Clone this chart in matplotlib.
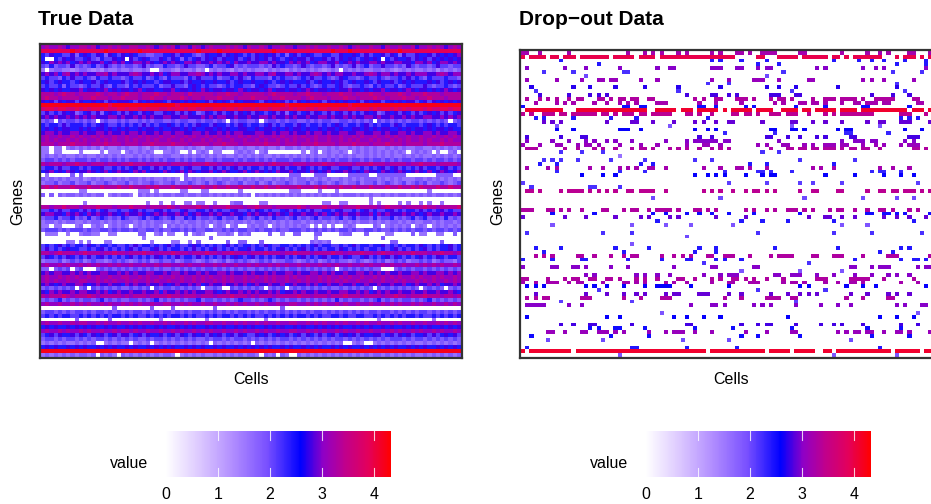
import numpy as np
import matplotlib
matplotlib.use("Agg")
import matplotlib.pyplot as plt
from matplotlib.cm import ScalarMappable
from matplotlib.colors import LinearSegmentedColormap, Normalize

plt.rcParams['font.family'] = ['Liberation Sans', 'DejaVu Sans']

W, H = 931, 504
n_genes, n_cells = 80, 100
# what each hex digit in true_rows stands for
digit_values = [0, 0.4, 0.7, 1.0, 1.2, 1.4, 1.6, 1.85, 2.1, 2.4, 2.8, 3.05, 3.3, 3.6, 3.9, 4.2]
value_max = 4.32
legend_ticks = [0, 1, 2, 3, 4]

# true data, one hex digit per cell
true_rows = [
"bcbbcbabbc cbcabbcbcb bccbbcbabc bcabbacbab cbbbcbcbac bbcbabbcbb abbcbcbbcb bcbabcbbcb bacbbcbbca bbcbcbabcb",
"eeeeeeefee eeeeefeeee eeefeeeeee eeeeeeefee eefeeeeeee eeeeefeeee eeeeeeeeef eeefeeeeee eeeeefeeee eeeeeeeeee",
"98a9988a79 a98a97a98a 9a98877889 9a8a99878a 99a8a9a989 8a9a9a8979 a89a988998 8a99a98a89 9a8a97a88a 99a8a9a9ab",
"90098a9a88 9a87988a9a 0a89a988a9 8a97989a8a 9a8a99a89a 8a9a8a989a 9aa8a99a8a 8a9a989a9a 9098a99a8a 9a8a9a9a9a",
"a9babab9ab abaab9abab 9abbaba9ab aba9bbabaa babab9baab aabbabaa9b abab9abbaa b9ababaabb abaabbaa9b bab9abbaba",
"8797887a78 78978a8787 8878a78779 8878a88778 97889a7878 88787a8988 78a878878a 7878a78978 8a88787a87 8878a88788",
"6067766567 7656576676 6766760067 7657667560 6767657676 7665767657 6767676567 6076767667 7676567676 6767576767",
"abab9bcaba baabbcabaa abcbaabab9 abbaabbcba babaabbaba abbabcaabb abaabcbaba bbaabaabcb abbabaabab bbaabcbabb",
"8988798a88 9879889887 8988978987 9888798a88 8978898a87 9888798988 7898a88987 8a98878988 9878898a89 8798889887",
"9a89a9989a 99a89a999a 89a9a9989a a99a8a99a9 9a99a89a99 a99a989a9a 999a89a99a 9a89a99a98 a99a89a9a9 99a9a89a9a",
"8988979887 8988a87988 7989888978 8a8879a989 8878989988 79a9887898 8a89878988 9a87889879 8988978988 8a87889878",
"a9a9a99aab 9aa9ab9a9a a9ab9aa99a ab9aa9a9ba 9aa9aa9ba9 aa9ab9aa9a a9aba9aa9a 9aabaa9a9a ab9aa9aba9 aa9a9aba9a",
"cccbcdccbc cccdcbccbc dccbcccdcc bcccbdcccc cbccdccbcc cccbcdcccc bccdcccbcc cdccbcccdc cbcccdcbcc cdcccbcccc",
"cdccbccccb ccdcccbccd cccbccdccb cccdcbccbc ccdcccbccc dcccbccdcc ccbcdcccbc ccdccbcccd ccbcccdccb ccdcccbccc",
"a9a8a9aa8a 99a9a8a9aa a98a9a9aa9 8aa9a9a99a 8a9a98a9aa a98a9a9a89 8a9a99a8a9 a9a99a8a9a a89a9a9aa8 9a8a9a9a9a",
"ffffffffff ffffffefff ffffffffff ffefffffff ffffffffff ffffffffef ffffffffff fffeffffff ffffffffff ffffffffff",
"deedeedded edeededdee deededeedd edeedeeded deedeededd edeedeedde deededeede eddeedeede deedededee ededdeedee",
"8a898a9a78 9a8a79a98a 8a98a9a88a 9a8a8a978a 98a89a8a9a 8a989a8a79 a89a8a98a8 9a8a898a9a 78a9a8a98a 89a9a8a89a",
"ababaababa babaaabbab aabababaab baabbaaaba babbaabaab aabbabaaba baabaabbab aababaabba baabaababa abbaababab",
"7870878878 7870787787 8778787887 7878877878 8787087887 7807887878 8778787887 7887878780 8787878788 7878787078",
"98998a8999 8989a98898 9898a89899 a989898a99 8a99898a98 9989a89899 8a98998989 a989989a89 8998a98999 89a9898998",
"9a9a9aa99a 9a9aa9a9a9 a99a9aa9a9 9aa9a9a99a a9a9a99aa9 9a9aa9a9a9 aa9a99a9aa 9a99aa9a9a 9aa99a9a9a a9a9aa9a99",
"abbabaabba baabbabaab abbabaabab babbaabbab aabababbaa abbaababba baababbaba abbaabbaab babaabbaba abbabaabba",
"bcbbcbbcbc bbcbcbbcbb cbbcbcbbcb bcbbcbcbbc bcbbcbbcbc bbcbbcbcbb cbcbbcbbcb bcbbcbcbbc bbcbcbbcbb cbbcbbcbcb",
"bcbcbbcbcb cbbcbcbcbb cbcbbcbcbb cbbcbcbbcb cbcbbcbbcb bcbcbbcbcb cbbcbcbbcb bcbcbcbbcb cbbcbcbcbb cbcbbcbcbb",
"cccbcccdcc cbcccdcccb cccbccdccc cdcccbcccc bccdcccbcc cccdcccbcc cbcccdcccc bcccdcccbc ccdcccbccc cbcccdcccc",
"6606606767 6767576676 7667657677 6766767657 7667667676 6767667577 6767676676 7667676767 6676767667 7667676767",
"6606600006 0000606660 6767676006 6760060676 0660006767 6067000000 0060670676 6760676767 6767676067 6760600670",
"6767676676 7667676767 6676767667 7667676767 6767667676 7676676767 6767676676 7676766767 6767667676 7667676767",
"7887878788 8787887878 7887878787 8878787887 7878887878 8787878887 8878787878 7887887878 8787878878 8787887878",
"cbcccbccdc cbcccbccbc cdcccbcccc bccccbcccd ccbcccbccc cccbcdcccb cccbcccdcc bcccbcccdc ccbccccbcc dcccbccccb",
"8998a88998 9899a88989 89a8998a89 89989a8899 8a8989a898 9989898a89 98a98989a8 899a889898 9a89a89898 a89989a898",
"9ab9a9ba9a aba9ab9aba a9bab9aa9b a9ab9ba9aa b9aba99ab9 aba9a9baab 9aa9ba9ab9 aaba9a9baa 9ba9aba9ab a9b9aba9ab",
"0600000707 0000000000 0000000000 0000700000 0000000000 0000000007 7700077700 0007777700 7777777000 0000777700",
"7676767667 5676766767 6776767667 6760767676 6767767676 7676676767 6776767676 6767676777 6767676667 7676767676",
"6778677867 7867787677 8676778767 7867787678 6787677867 7867867787 6778678767 8767786778 6787678678 7867787678",
"cdcdcccdcc cdccdcccdc cdcccdcdcc cdcccdccdc cdccdccdcc dccdccdccc cdcccdcdcc cdccdcccdc ccdccdccdc dcccdccdcc",
"0000000006 6000000000 0006660600 0006600066 0000000600 0000000006 6600006000 6000000000 0000000000 0060000000",
"7070767767 6767706767 7607676767 7677677677 6767676767 0767676767 6767676767 7677767676 6767677676 7676776767",
"0000000000 0000000000 0000000000 0000000000 0000000000 0000000000 0000000000 0000000060 0000000000 0000000000",
"0000000000 6000000000 0000060060 0600660660 0600067700 0066000000 0000000660 0660000060 6000060600 6060060000",
"ccbccdcccb cccdcccbcc cdcccbcccc dcbccccdcc bcccdcccbc cdcccbcccc cdcbcccdcc cbcccdcccc bcdcccbccc cdccbccccd",
"8898a88998 a8989a8898 89a89889a8 9889a88998 a89889a889 8a989889a8 9898a88998 9a88989a89 889a898998 a8989a8988",
"abbaa9baba 9babaaba9a baaba9abab aabab9abaa babaabaa9b abaababa9b aabaabab9a babaabaab9 babaaababa 9abaabaaba",
"7889788978 7978987879 8778978987 8977989788 7897887987 8978798878 9787897887 8978978879 7889787897 8978879787",
"6776767766 7677676767 7767676776 6767677676 7676767767 6776767676 7767677676 7676767767 6767767676 6776767767",
"6606600067 0067606767 6067676760 7676767676 0676067006 7676067676 7676060606 0067600007 6067676706 7606767676",
"7888787888 7877887878 8787788787 7887878778 8778787887 7878878778 8878787878 7887877887 8778787878 8787887878",
"0666006006 7766006600 0007700670 6600706760 0066760767 0000700600 7700077000 0677000700 0066000070 6600660070",
"0000000000 0000000000 0000600000 0000000000 7000000000 0000000000 0000060000 0000000000 0700000000 0000000000",
"0000006606 0600066000 0000006000 0660060700 0000700770 0070000000 0000767670 0000000000 0007700000 0000070000",
"8989a89899 8a98998988 98a8998989 a89889a989 8989a89899 898a988998 98989a8998 8989a89989 9a89898998 a989899a89",
"8a8989a998 8989a89898 9a89889a89 899898a898 9a8989899a 8998989a89 89a8989899 8a98989899 8989a89898 9a89899a89",
"ccbcdcccbc dcccbccdcc bcccdccbcc cdcccbcccd ccbccdcccb cccdcccbcc dcccbccccd ccbcccdccb cdccbcccdc ccbccdccbc",
"8a9898a989 8a89a89898 9a89898a98 98a8998a89 898a89a989 a898989a89 89a8989a89 98a9889a89 89a8a98989 a898a98998",
"6777867878 6787767878 7678786787 7867887678 7678678787 6787867788 7678786787 8776787678 7867878677 8786787768",
"bcbbcbcbbc bcbcbbcbcb bcbbcbbcbc cbbcbcbbcb bcbcbbcbbc bcbbcbcbcb bcbcbbcbcb cbbcbbcbcb bcbcbbcbbc bcbcbcbbcb",
"7707878078 0007878787 8787878787 7878787878 8787878787 7878787878 8787878787 0787878787 7000787878 8787878787",
"ababbaabab abaabbaaba babaabbaab abbabaabab aabbabaaba baababaabb abaabbabab aabaabbaba babaabaabb abaabbabab",
"bcbbcbcbcb bcbcbbcbbc cbbcbcbbcb bcbcbbcbcb cbbcbcbbcb bcbcbcbbcb cbbcbbcbcb bcbcbbcbbc bcbcbcbbcb cbbcbcbbcb",
"bcbcbbcbbc cbbcbcbcbb cbcbbcbcbb cbbcbbcbcb bcbcbcbbcb cbbcbcbbcb bcbcbbcbcb cbcbbcbbcb bcbbcbcbbc bcbcbbcbcb",
"aba9abaabb a9abaabaa9 babaabaaba 9abaabab9a baabaabab9 abaabaab9a baabab9aba abaab9abaa baabaab9ab aabab9aaba",
"7878787807 8087878787 7878780878 8787878707 7870087878 7870787807 8787878787 7878787870 8787878787 0787870787",
"a9babaabab baabab9aba abaabaab9b aabababaab ba9abaabab abaabab9aa babaabaaba abbaabab9a babaabaaba abaabaaba9",
"cbcccdcbcc cdcbcccccb cbcccbcccc dccbcccbcc cbcccdcccb cbcccbcccc cdccbcccbc ccdcccbccc cbccdccbcc cdcccbccbc",
"7878978787 8878978787 7887878978 7878788978 8787878988 7878987878 8787878787 9787887878 9787878878 7897878787",
"bcbbcbbcbc bcbbcbcbbc bcbcbbcbbc cbbcbcbbcb bcbbcbcbcb bcbcbbcbbc cbbcbcbcbb cbcbbcbbcb bcbcbcbbcb cbbcbbcbcb",
"0000000000 0000000700 0000007000 0700000000 0700000000 0000000700 0000000000 0000000000 0000000000 0000000000",
"7887878788 7878878787 8788787878 8787878878 7878787887 8787887878 7878788787 8787878788 7887878787 8878787878",
"8989899889 8989898998 9898898989 8998989889 8989989898 9889898989 8998989889 9898899889 8989898998 9889898989",
"0000000070 0000007000 0000000060 0000000006 0000000000 0006000000 0000000000 0000000000 6000000000 0006000000",
"bcbbcbbcbc cbbcbcbbcb bcbcbbcbbc bcbbcbcbbc cbbcbbcbcb bcbcbbcbbc cbbcbcbcbb cbcbbcbcbb cbbcbcbbcb bcbbcbcbcb",
"9a9a99a9a9 a9a99a9a99 a9a9a99a9a 99a9a9a99a 9a9a99a9a9 a99a9a9a99 a9a99a9a9a 9a99a9a9a9 9a9a99a9a9 a9a99a9a9a",
"bcbbcbcbbc bcbbcbbcbc cbcbbcbbcb bcbcbbcbcb cbbcbbcbcb bcbcbbcbbc cbbcbcbcbb cbcbbcbbcb bcbcbcbbcb cbbcbcbbcb",
"89a8a99a8a 98a9a89a8a a89a8a99a8 9a8a98a9a8 a9a89a8a98 8a9a89a9a8 9a8a98a89a 89a9a8a99a a89a8a9a89 9a8a89a9a8",
"7887878878 7878878787 8787787887 8787878778 7887878878 7878787887 8787878787 8878787878 7878887878 8787878787",
"6767676676 7670067676 6067670676 7676767676 0767676767 0767676767 6767676767 6700676006 7676767676 6767676767",
"9a9a99a9a9 a99a9a9a99 a9a99a9a9a 9a99a9a9a9 9a9a99a9a9 a9a9a99a9a 99a9a9a99a 9a9a99a9a9 a9a9a99a9a 9a99a9a9a9",
"ffffffffff ffffffffff ffffffffff ffffffffff ffffffffff ffffffffff ffffffffff ffffffffff ffffffffff ffffffffff",
"6767676767 7670767607 6767676767 7606767676 6767676767 7607670760 0767676767 6767676767 7676767676 6767676767",
]

# drop-out data: gene row -> (value, columns that survived)
drop_rows = {
0: (3.2, "0-1 4 11 25 29 31 33 37 39 45 47 51-52 54 57-60 66-67 76 82 85 87 92-93 97"),
1: (3.95, "0 2-5 7-8 10-12 14-20 22-26 28-31 33-50 56-57 61-65 67-72 74-75 77 79-85 89 91-93 95 97"),
2: (2.4, "9 45 47 52 58 74 80 83 86 91 96"),
3: (2.4, "18 56 61 89 96"),
4: (3.0, "1 10 15 23 32 35-36 45-47 51-52 56 58-59 70 72 81 84 86 96"),
5: (2.2, "5 12 24-25 62 88 95"),
6: (2.0, "15 58"),
7: (3.1, "1 8 14 18-19 21-22 28 32 45 49 55-57 61 68-69 81 83 86 93"),
8: (2.2, "44 49 89"),
9: (2.7, "2 12 16 22 29 37 47 58 61 65 75 89"),
10: (2.2, "3 37 64 91"),
11: (2.8, "4 11 16 18 20 39 45-46 49 51 59-61 65-66 83 88 92"),
12: (3.3, "1 4 6 8 11 13-14 18-19 21 23-24 26-27 30-31 41 43 46-47 51-53 55 59 61-62 64 69 72-74 76-79 81 84-88 93-94"),
13: (3.2, "3 8 10 12 17 20 23 25 27 32-34 42 46 52 60 62 66-67 69-70 72 76 79-80 82-84 86-87 94-95"),
14: (2.5, "0 24-25 28-29 42-43 46 53 55 65 72 81-82 92"),
15: (4.1, "1-8 9 13-20 21-29 32-36 38-40 42-46 48 50-54 56-59 62-65 67-68 70-74 76-79 81-91 93-95 97"),
16: (3.4, "0 2 5-7 9-10 12-17 19-20 22 24-26 28-29 31-35 39-40 42 45 50-51 53-54 56 59-61 63-65 68 72 74 76-83 90-92 96"),
17: (2.4, "3 5 12 21 27 44 90 92 94"),
18: (2.9, "5 7 9 20 26-27 31 36 41 43 46 49-50 57 64-65 69 72 76 82 85-86 90-92 97"),
19: (1.9, "8 35 64 85"),
20: (2.6, "8 12 23-25 28 41 44 46 59-60 64-65 67 75 77-78 91 95"),
21: (2.3, "48 60 77-78 87"),
22: (2.8, "1 9 14-15 42 45 58-59 63 66 70 72 78-79 92-94"),
23: (3.0, "1 7 11 15 17 20 22 26 34 39 41-46 48-49 61 76 79-81 83-84 91 93"),
24: (3.1, "0 4 8-9 13 15-16 18 23 28 32 39 43-44 47 56 58 62-63 67 69 72-74 76-77 81 84 86 90 92-94"),
25: (3.3, "1-3 10 13 17 19 22 26 28-29 31 35 37 39 42 45 47 49 59 63-64 66-67 69-70 72-74 76 78-79 81-82 85 93-94 96"),
26: (2.2, "9 14 19 57 61"),
27: (1.6, "23"),
28: (2.2, "5 7 9 13 21 29 41 45 66 79"),
29: (2.4, "4 8 28 31 54 58 74"),
30: (3.2, "1 6 8 16 19 23 25 27 30-31 34 43 47 51-52 54 58 69 71 74 85 88 92"),
31: (2.3, "8 23 29 48 56-57 59 64 83 85-86 90"),
32: (2.6, "14 19 22 41 44 46 48 53 57 59-60 72 79 86 90 93"),
34: (2.1, "0 49 58 66 69 76 94"),
35: (2.2, "2 16-17 23"),
36: (3.4, "1-2 4 9 11-14 16 18 20 22 25-26 28-31 34 43 45 47 50 53 55-56 58 60 66 69-70 75-76 82 85-86 88-89 91-93 95 97"),
38: (2.0, "31 47 67 81 89 93"),
41: (3.3, "0-2 6-7 9 11 14 19-20 24 26-27 30 32-35 37 41-42 44 46 53 55 58 60 63-65 67 69 73 75-76 79 82 85-86 88 92 94"),
42: (2.5, "7 17 31 34 39 42 45 49 55 66 82-83 86-87 89 91 97"),
43: (2.9, "0 10 15 22 28 30 35 37 46 53 68 72-73 76 79 86 89 92 96"),
44: (2.4, "32 52 57 63 74 93"),
45: (1.9, "7 26 34 40 50 76 82"),
47: (2.2, "1 19 26 56 74 83 95"),
48: (2.0, "39"),
50: (1.9, "26"),
51: (2.4, "3 9 22 30 42 46 60 75 90 92"),
52: (2.4, "5 24 41 46 85 88"),
53: (3.3, "3 5 7 13-14 17 21 24 26-27 33 36 38 40 44-45 48-50 54 59 61-64 69-70 74-76 81 87-89 97"),
54: (2.4, "0 7 14-15 25 33 39-40 46 48 52 79 90 93-94 96"),
55: (2.2, "43 68"),
56: (3.0, "0 7-8 12-13 15 21 25 36 45-46 55-56 78-79 83 85-87 94 96-97"),
57: (1.9, "52 66 76"),
58: (3.0, "15 17 27 29 32 35 43 47 49-51 60-61 64-66 70 74 79 83 87 89 92"),
59: (3.3, "0-1 6 10 12-13 16-17 20-21 23 27 29 32 37-38 41 45 47 50-51 53 55 58 62 70-72 78-82 86 93"),
60: (3.2, "0 3 6-8 11 13-14 19 24-25 27 29 34 36 39 45 49-50 54-56 62 64-65 67 72 75 78-79 81 90 94"),
61: (2.6, "1 3 5 15 17 20 24 29 32-35 40 49 66 68 77 81 84 96"),
62: (2.2, "18 56 72"),
63: (2.9, "3 15 20 24 27 29 34 36-37 42-44 49 52 59 63 66 68 70 78 82 87 89 92"),
64: (3.3, "1 3 5-6 14-16 24 28 33-35 48 52 58-61 64-65 77 81 87-88"),
65: (2.1, "9 26 65"),
66: (3.0, "1-5 11 14 40 45-46 48 55 57 59 65 71 75 78 89 91 95-96"),
68: (1.9, "33 94"),
69: (2.6, "1 20 23 36 39 43 47 63 85 89 93"),
71: (2.8, "9 12 16-17 26 39-40 52 56 58-59 65 71 74 76 81 90 94"),
72: (2.5, "16 18 22-23 29 41 50 64 82 90"),
73: (3.1, "6-7 10 14-15 18-20 22 24 30 34 36-38 41 45 53 58 64-65 75 77 79-80 82-83 86 89-90 92 97"),
74: (2.5, "2 21 30 52 56 66 83 92"),
75: (2.0, "6 19 38 49 78"),
77: (2.4, "1 26-27 39 51 85"),
78: (4.1, "0 2-11 13-33 34-43 45-47 48-57 59-63 65-69 72-73 75-87 89-94 96-97"),
79: (1.9, "23 74 89"),
}

# white to blue and blue to red ramps
cmap_stops = [(0.0, "#FFFFFF"), (0.15, "#DCC8FF"), (0.30, "#B08CFF"), (0.45, "#7950FF"), (0.60, "#0000FF"),
              (0.70, "#8F00C6"), (0.80, "#C1008B"), (0.90, "#E3005B"), (1.0, "#FF0000")]
cmap = LinearSegmentedColormap.from_list("wbr", cmap_stops)
norm = Normalize(0, value_max)


def parse_true():
    out = []
    for row in true_rows:
        s = row.replace(" ", "")
        out.append([digit_values[int(c, 16)] for c in s][:n_cells])
    return np.array(out)


def parse_drop():
    out = np.full((n_genes, n_cells), np.nan)
    for r, (val, cols) in drop_rows.items():
        for part in cols.split():
            if "-" in part:
                a, b = part.split("-")
                out[r, int(a):int(b) + 1] = val
            else:
                out[r, int(part)] = val
    return out


fig = plt.figure(figsize=(W / 100, H / 100), dpi=100)


def px_axes(x0, y0, x1, y1):
    return fig.add_axes([x0 / W, 1 - y1 / H, (x1 - x0) / W, (y1 - y0) / H])


def panel(data, x0, y0, x1, y1, in_x0, in_y0, in_x1, in_y1, title, title_x, title_y, gene_x):
    ax = px_axes(x0, y0, x1, y1)
    ax.pcolormesh(np.arange(n_cells + 1), np.arange(n_genes + 1), data, cmap=cmap, norm=norm)
    cw = (in_x1 - in_x0) / n_cells
    rh = (in_y1 - in_y0) / n_genes
    ax.set_xlim(-(in_x0 - x0) / cw, n_cells + (x1 - in_x1) / cw)
    ax.set_ylim(n_genes + (y1 - in_y1) / rh, -(in_y0 - y0) / rh)
    ax.set_xticks([])
    ax.set_yticks([])
    for s in ax.spines.values():
        s.set_linewidth(1.6)
        s.set_color("#333333")
    fig.text(title_x / W, 1 - title_y / H, title, fontsize=15, fontweight="bold", va="baseline", ha="left")
    fig.text((x0 + x1) / 2 / W, 1 - 379 / H, "Cells", fontsize=11.5, ha="center", va="center")
    fig.text(gene_x / W, 1 - 201 / H, "Genes", fontsize=11.5, rotation=90, ha="center", va="center")


def legend(bar_x0):
    cax = px_axes(bar_x0, 431, bar_x0 + 225.5, 477)
    cb = fig.colorbar(ScalarMappable(norm=norm, cmap=cmap), cax=cax, orientation="horizontal")
    cb.outline.set_visible(False)
    cb.set_ticks(legend_ticks)
    cax.tick_params(length=0, pad=7.5, labelsize=11.5, labelcolor="black")
    trans = cax.get_xaxis_transform()
    for t in legend_ticks[1:]:
        cax.plot([t, t], [0, 0.2], color="white", lw=0.8, alpha=0.8, transform=trans)
        cax.plot([t, t], [0.8, 1], color="white", lw=0.8, alpha=0.8, transform=trans)
    fig.text((bar_x0 - 55.5) / W, 1 - 464 / H, "value", fontsize=11.5, ha="left", va="center")


panel(parse_true(), 40, 44, 462, 358, 41, 45, 461, 356.5, "True Data", 38, 25, 18)
panel(parse_drop(), 520, 50, 942, 358, 521, 51, 941, 357, "Drop\u2212out Data", 519, 25, 498)
legend(165.5)
legend(645.5)

fig.savefig("out.png", dpi=100)
